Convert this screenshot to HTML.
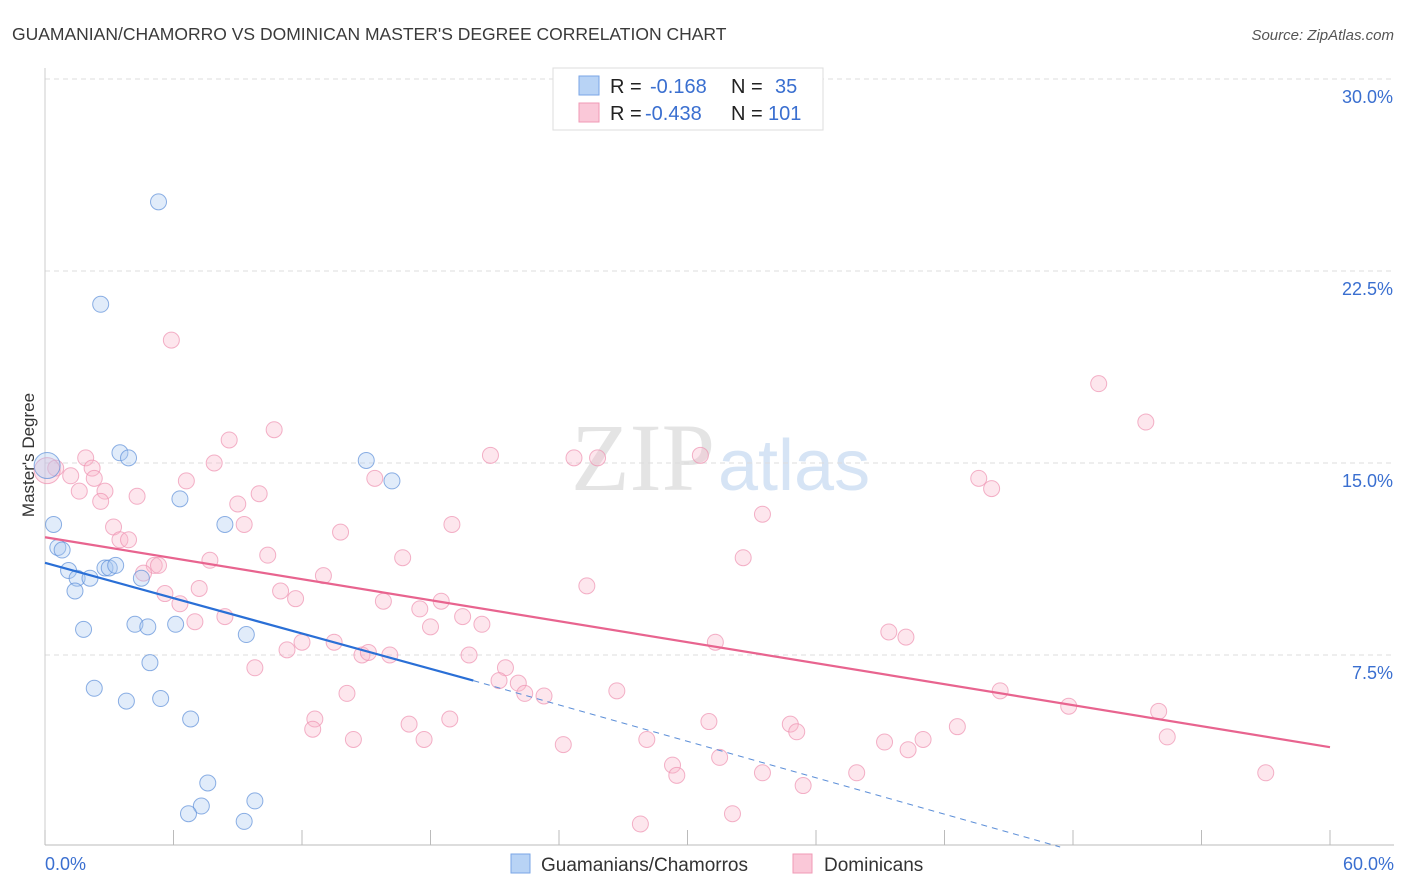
<!DOCTYPE html>
<html><head><meta charset="utf-8"><style>
body{margin:0;background:#fff;font-family:"Liberation Sans",sans-serif}
svg{display:block}
</style></head><body>
<svg id="c" width="1406" height="892">
<text x="12" y="40" font-size="17.5" fill="#3a3a3a">GUAMANIAN/CHAMORRO VS DOMINICAN MASTER'S DEGREE CORRELATION CHART</text>
<text x="1394" y="40" font-size="15" fill="#555" font-style="italic" text-anchor="end">Source: ZipAtlas.com</text>
<text x="715" y="490" font-size="96" fill="#e4e4e4" text-anchor="end" font-family="Liberation Serif">ZIP</text>
<text x="718" y="490" font-size="72" fill="#d6e4f5">atlas</text>
<text transform="translate(34,455) rotate(-90)" font-size="17" fill="#333" text-anchor="middle">Master's Degree</text>
<g id="grid"></g><g id="marks"></g>
<g>
<rect x="553" y="68" width="270" height="62" fill="#fff" stroke="#ddd"/>
<rect x="579" y="76" width="20" height="19" fill="#b8d3f5" stroke="#7aa6e6"/>
<rect x="579" y="103" width="20" height="19" fill="#fac8d8" stroke="#f09ab6"/>
<text y="93" font-size="20" fill="#222"><tspan x="610">R =</tspan><tspan x="650" fill="#3a6fd0">-0.168</tspan><tspan x="731">N =</tspan><tspan x="775" fill="#3a6fd0">35</tspan></text>
<text y="120" font-size="20" fill="#222"><tspan x="610">R =</tspan><tspan x="645" fill="#3a6fd0">-0.438</tspan><tspan x="731">N =</tspan><tspan x="768" fill="#3a6fd0">101</tspan></text>
</g>
<g>
<rect x="511" y="854" width="19" height="19" fill="#b8d3f5" stroke="#7aa6e6"/>
<text x="541" y="871" font-size="19" fill="#333">Guamanians/Chamorros</text>
<rect x="793" y="854" width="19" height="19" fill="#fac8d8" stroke="#f09ab6"/>
<text x="824" y="871" font-size="19" fill="#333">Dominicans</text>
</g>
</svg>
<script>
const yTicks=[7.5,15,22.5,30];
const xTickLabels=["0.0%","60.0%"];
const blueX=[5.3,2.6,3.5,3.9,15.0,16.2,6.3,0.4,8.4,0.6,0.8,1.1,1.5,2.1,1.4,2.8,3.0,3.3,4.5,1.8,4.2,4.8,6.1,9.4,4.9,2.3,3.8,5.4,6.8,7.6,7.3,6.7,9.8,9.3,0.1];
const blueY=[25.2,21.2,15.4,15.2,15.1,14.3,13.6,12.6,12.6,11.7,11.6,10.8,10.5,10.5,10.0,10.9,10.9,11.0,10.5,8.5,8.7,8.6,8.7,8.3,7.2,6.2,5.7,5.8,5.0,2.5,1.6,1.3,1.8,1.0,14.9];
const pinkX=[5.9,49.2,51.4,10.7,8.6,1.9,7.9,20.8,24.7,25.8,30.6,0.5,1.2,2.2,6.6,15.4,1.6,2.3,2.8,2.6,4.3,9.0,10.0,43.6,44.2,33.5,19.0,13.8,3.2,3.5,3.9,9.3,7.7,10.4,16.7,32.6,5.1,5.3,4.6,13.0,7.2,25.3,5.6,6.3,11.0,11.7,15.8,18.5,17.5,7.0,8.4,19.5,20.4,18.0,39.4,40.2,31.3,13.5,12.0,11.3,14.8,15.1,16.1,19.8,9.8,21.5,21.2,22.1,22.4,23.3,26.7,14.1,44.6,47.8,52.0,12.6,12.5,17.0,18.9,31.0,34.8,35.1,42.6,14.4,17.7,52.4,24.2,28.1,39.2,41.0,40.3,31.5,29.3,29.5,33.5,37.9,35.4,57.0,32.1,27.8,0.1];
const pinkY=[19.8,18.1,16.6,16.3,15.9,15.2,15.0,15.3,15.2,15.2,15.3,14.8,14.5,14.8,14.3,14.4,13.9,14.4,13.9,13.5,13.7,13.4,13.8,14.4,14.0,13.0,12.6,12.3,12.5,12.0,12.0,12.6,11.2,11.4,11.3,11.3,11.0,11.0,10.7,10.6,10.1,10.2,9.9,9.5,10.0,9.7,9.6,9.6,9.3,8.8,9.0,9.0,8.7,8.6,8.4,8.2,8.0,8.0,8.0,7.7,7.5,7.6,7.5,7.5,7.0,7.0,6.5,6.4,6.0,5.9,6.1,6.0,6.1,5.5,5.3,5.0,4.6,4.8,5.0,4.9,4.8,4.5,4.7,4.2,4.2,4.3,4.0,4.2,4.1,4.2,3.8,3.5,3.2,2.8,2.9,2.9,2.4,2.9,1.3,0.9,14.7];
const blueLine=[[0,11.1],[20,6.5]], blueDash=[[20,6.5],[47.4,0]];
const pinkLine=[[0,12.1],[60,3.9]];
const NS="http://www.w3.org/2000/svg";
const X0=45,X1=1330,YB=847,YT=79;
const sx=v=>X0+v/60*(X1-X0), sy=v=>YB-v/30*(YB-YT);
function mk(t,a,p){const e=document.createElementNS(NS,t);for(const k in a)e.setAttribute(k,a[k]);p.appendChild(e);return e;}
const grid=document.getElementById('grid'),marks=document.getElementById('marks');
yTicks.forEach(v=>{
 const l=mk('line',{x1:45,x2:1394,y1:sy(v),y2:sy(v),stroke:'#ddd','stroke-dasharray':'5,4'},grid);
 
 
 const t=mk('text',{x:1393,y:sy(v)+24,'font-size':18,fill:'#3a6fd0','text-anchor':'end'},grid);t.textContent=v.toFixed(1)+'%';
 
 
});
const ax=mk('line',{x1:45,x2:1394,y1:845,y2:845,stroke:'#bbb'},grid);


const ay=mk('line',{x1:45,x2:45,y1:68,y2:845,stroke:'#ccc'},grid);


for(let i=0;i<=10;i++){const tk=mk('line',{x1:sx(i*6),x2:sx(i*6),y1:830,y2:845,stroke:'#bbb'},grid);
 
 }
[[xTickLabels[0],45,'start'],[xTickLabels[1],1394,'end']].forEach(([s,x,a])=>{const t=mk('text',{x:x,y:870,'font-size':18,fill:'#3a6fd0','text-anchor':a},grid);t.textContent=s;
 
 });
function pts(xs,ys,fill,stroke,name){xs.forEach((x,i)=>{const c=mk('circle',{cx:sx(x),cy:sy(ys[i]),r:(x<0.3?13:8),fill:fill,'fill-opacity':0.35,stroke:stroke,'stroke-opacity':0.7,'stroke-width':1},marks);
 
 });}
pts(pinkX,pinkY,'#f9b8cc','#ee92b0','point-dominican');
pts(blueX,blueY,'#a9c9f0','#5d8fd8','point-guamanian');
function ln(p,col,dash,name){const l=mk('line',{x1:sx(p[0][0]),y1:sy(p[0][1]),x2:sx(p[1][0]),y2:sy(p[1][1]),stroke:col,'stroke-width':dash?1:2.2},marks);if(dash)l.setAttribute('stroke-dasharray','6,5');
 
 }
ln(pinkLine,'#e8648f',false,'trendline-dominican');
ln(blueLine,'#2a6fd6',false,'trendline-guamanian');
ln(blueDash,'#5d8fd8',true,'trendline-guamanian-extrapolated');
</script>
</body></html>
